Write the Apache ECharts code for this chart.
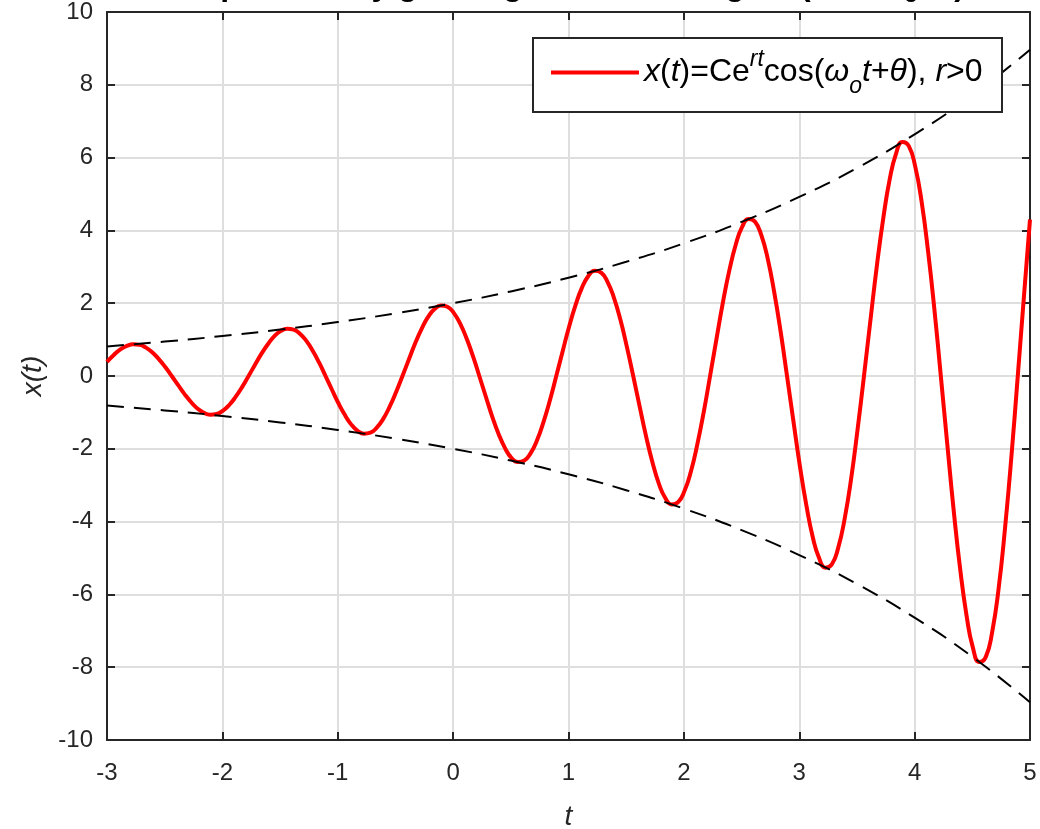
<!DOCTYPE html>
<html>
<head>
<meta charset="utf-8">
<script src="https://cdn.jsdelivr.net/npm/echarts@6/dist/echarts.min.js"></script>
<style>
  html, body { margin: 0; padding: 0; background: #ffffff; }
  #chart { width: 1040px; height: 829px; }
</style>
</head>
<body>
<div id="chart"></div>
<script>
// Growing oscillation x(t), sampled along t
const tSignal = [
  -3, -2.939, -2.884, -2.828, -2.773, -2.717, -2.662, -2.606, -2.551, -2.495, -2.439, -2.383,
  -2.328, -2.272, -2.217, -2.161, -2.106, -2.050, -1.995, -1.939, -1.884, -1.828, -1.773, -1.717,
  -1.662, -1.606, -1.551, -1.495, -1.439, -1.383, -1.328, -1.272, -1.217, -1.161, -1.106, -1.050,
  -0.995, -0.939, -0.884, -0.828, -0.773, -0.717, -0.662, -0.606, -0.551, -0.495, -0.439, -0.383,
  -0.328, -0.272, -0.217, -0.161, -0.106, -0.050, 0.005, 0.061, 0.116, 0.172, 0.227, 0.283,
  0.338, 0.394, 0.450, 0.505, 0.561, 0.617, 0.672, 0.728, 0.783, 0.839, 0.894, 0.950,
  1.005, 1.061, 1.116, 1.172, 1.227, 1.283, 1.338, 1.394, 1.450, 1.505, 1.561, 1.617,
  1.672, 1.728, 1.783, 1.839, 1.894, 1.950, 2.005, 2.061, 2.116, 2.172, 2.227, 2.283,
  2.338, 2.394, 2.450, 2.505, 2.561, 2.617, 2.672, 2.728, 2.783, 2.839, 2.894, 2.950,
  3.005, 3.061, 3.116, 3.172, 3.227, 3.283, 3.338, 3.394, 3.450, 3.505, 3.561, 3.617,
  3.672, 3.728, 3.783, 3.839, 3.894, 3.950, 4.005, 4.061, 4.116, 4.172, 4.227, 4.283,
  4.338, 4.394, 4.450, 4.505, 4.561, 4.617, 4.672, 4.728, 4.783, 4.839, 4.894, 4.950, 5];
const xSignal = [
  0.39, 0.586, 0.729, 0.827, 0.870, 0.855, 0.779, 0.647, 0.465, 0.245, 0, -0.253,
  -0.497, -0.715, -0.891, -1.010, -1.063, -1.044, -0.952, -0.790, -0.568, -0.299, 0, 0.309,
  0.607, 0.873, 1.088, 1.234, 1.299, 1.275, 1.163, 0.965, 0.694, 0.365, 0, -0.378,
  -0.742, -1.067, -1.329, -1.507, -1.586, -1.558, -1.420, -1.179, -0.848, -0.446, 0, 0.461,
  0.906, 1.303, 1.623, 1.840, 1.937, 1.903, 1.735, 1.440, 1.035, 0.545, 0, -0.563,
  -1.107, -1.592, -1.982, -2.248, -2.366, -2.324, -2.119, -1.759, -1.265, -0.666, 0, 0.688,
  1.352, 1.944, 2.421, 2.746, 2.890, 2.839, 2.588, 2.148, 1.545, 0.813, 0, -0.841,
  -1.651, -2.374, -2.957, -3.353, -3.530, -3.467, -3.161, -2.624, -1.887, -0.993, 0, 1.027,
  2.017, 2.900, 3.612, 4.096, 4.312, 4.235, 3.861, 3.205, 2.304, 1.213, 0, -1.254,
  -2.463, -3.542, -4.411, -5.003, -5.266, -5.172, -4.715, -3.915, -2.815, -1.481, 0, 1.532,
  3.009, 4.326, 5.388, 6.110, 6.432, 6.317, 5.759, 4.781, 3.438, 1.809, 0, -1.871,
  -3.675, -5.284, -6.581, -7.463, -7.856, -7.716, -7.034, -5.840, -4.199, -2.210, 0, 2.285, 4.30];

// Envelope +/- C e^{rt}
const tEnvelope = [-3, -2.5, -2, -1.5, -1, -0.5, 0, 0.5, 1, 1.5, 2, 2.5, 3, 3.5, 4, 4.5, 5];
const envUpper = [0.813, 0.945, 1.098, 1.275, 1.482, 1.721, 2, 2.324, 2.700, 3.137, 3.644, 4.234, 4.919, 5.715, 6.640, 7.714, 8.963];
const envLower = [-0.813, -0.945, -1.098, -1.275, -1.482, -1.721, -2, -2.324, -2.700, -3.137, -3.644, -4.234, -4.919, -5.715, -6.640, -7.714, -8.963];

const FONT = '"Liberation Sans", Arial, Helvetica, sans-serif';
const INK = '#262626';

const zip = (a, b) => a.map((v, i) => [v, b[i]]);

const chart = echarts.init(document.getElementById('chart'), null, { renderer: 'canvas' });

// Mirror axes that close the box on the top and right sides
const boxAxis = {
  axisLine: { show: true, onZero: false, lineStyle: { color: INK, width: 2 } },
  axisTick: { show: true, inside: true, length: 8, lineStyle: { color: INK, width: 2 } },
  axisLabel: { show: false },
  splitLine: { show: false }
};

chart.setOption({
  animation: false,
  backgroundColor: '#ffffff',
  title: {
    text: '{b|Exponentially growing sinusoidal signal (r>0, \u03c9}{s|o}{b|>0)}',
    left: 568,
    textAlign: 'center',
    top: -40,
    textStyle: {
      fontFamily: FONT, fontSize: 32, fontWeight: 'bold', color: '#000',
      rich: {
        b: { fontFamily: FONT, fontSize: 32, fontWeight: 'bold', color: '#000', lineHeight: 40 },
        s: { fontFamily: FONT, fontSize: 22, fontWeight: 'bold', color: '#000', padding: [20, 0, 0, 0] }
      }
    }
  },
  grid: { left: 107, right: 10, top: 12, bottom: 89, containLabel: false, outerBoundsMode: 'none' },
  xAxis: [
    {
      type: 'value', min: -3, max: 5, interval: 1, position: 'bottom',
      name: 't', nameLocation: 'middle', nameGap: 63,
      nameTextStyle: { fontFamily: FONT, fontSize: 28, fontStyle: 'italic', color: INK },
      axisLine: { show: true, onZero: false, lineStyle: { color: INK, width: 2 } },
      axisTick: { show: true, inside: true, length: 8, lineStyle: { color: INK, width: 2 } },
      axisLabel: { fontFamily: FONT, fontSize: 24, color: INK, margin: 21 },
      splitLine: { show: true, lineStyle: { color: '#dedede', width: 2 } }
    },
    Object.assign({ type: 'value', min: -3, max: 5, interval: 1, position: 'top' }, boxAxis)
  ],
  yAxis: [
    {
      type: 'value', min: -10, max: 10, interval: 2, position: 'left',
      name: 'x(t)', nameLocation: 'middle', nameGap: 60, nameRotate: 90,
      nameTextStyle: { fontFamily: FONT, fontSize: 28, fontStyle: 'italic', color: INK },
      axisLine: { show: true, onZero: false, lineStyle: { color: INK, width: 2 } },
      axisTick: { show: true, inside: true, length: 8, lineStyle: { color: INK, width: 2 } },
      axisLabel: { fontFamily: FONT, fontSize: 24, color: INK, margin: 14 },
      splitLine: { show: true, lineStyle: { color: '#dedede', width: 2 } }
    },
    Object.assign({ type: 'value', min: -10, max: 10, interval: 2, position: 'right' }, boxAxis)
  ],
  legend: {
    show: true,
    data: ['signal'],
    left: 551,
    top: 48,
    padding: 0,
    z: 6,
    icon: 'rect',
    itemWidth: 88,
    itemHeight: 4,
    selectedMode: false,
    formatter: () => '{i|x}{n|(}{i|t}{n|)=Ce}{sup|rt}{n|cos(}{i|\u03c9}{sub|o}{i|t}{n|+}{i|\u03b8}{n|), }{i|r}{n|>0}',
    textStyle: {
      fontFamily: FONT, fontSize: 32, color: '#000',
      rich: {
        n: { fontFamily: FONT, fontSize: 32, color: '#000', lineHeight: 56 },
        i: { fontFamily: FONT, fontSize: 32, fontStyle: 'italic', color: '#000', lineHeight: 56 },
        sup: { fontFamily: FONT, fontSize: 23, fontStyle: 'italic', color: '#000', padding: [0, 0, 26, 0] },
        sub: { fontFamily: FONT, fontSize: 23, fontStyle: 'italic', color: '#000', padding: [28, 0, 0, 0] }
      }
    }
  },
  graphic: [
    {
      type: 'rect', z: 5,
      shape: { x: 533, y: 38, width: 469, height: 74 },
      style: { fill: '#ffffff', stroke: INK, lineWidth: 2 }
    }
  ],
  series: [
    {
      name: 'signal', type: 'line', xAxisIndex: 0, yAxisIndex: 0,
      data: zip(tSignal, xSignal), smooth: true, showSymbol: false, symbol: 'none',
      color: '#ff0000', lineStyle: { color: '#ff0000', width: 4 }, z: 2
    },
    {
      name: 'upper', type: 'line', xAxisIndex: 0, yAxisIndex: 0,
      data: zip(tEnvelope, envUpper), smooth: true, showSymbol: false, symbol: 'none',
      lineStyle: { color: '#000000', width: 2, type: [17, 10] }, z: 3
    },
    {
      name: 'lower', type: 'line', xAxisIndex: 0, yAxisIndex: 0,
      data: zip(tEnvelope, envLower), smooth: true, showSymbol: false, symbol: 'none',
      lineStyle: { color: '#000000', width: 2, type: [17, 10] }, z: 3
    }
  ]
});
</script>
</body>
</html>
